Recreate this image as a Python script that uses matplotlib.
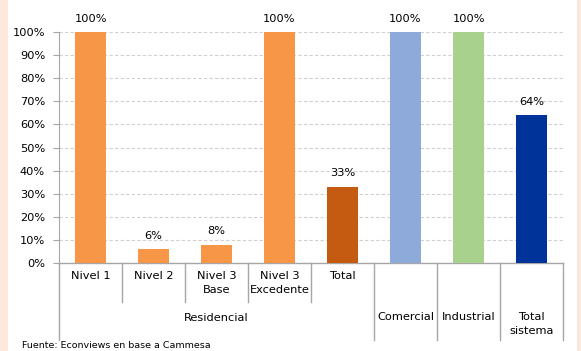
import matplotlib.pyplot as plt
from matplotlib.lines import Line2D
from matplotlib.patches import Rectangle
from matplotlib.ticker import FuncFormatter

# datos
categorias = ["Nivel 1", "Nivel 2", "Nivel 3\nBase", "Nivel 3\nExcedente", "Total",
              "Comercial", "Industrial", "Total\nsistema"]
valores = [100, 6, 8, 100, 33, 100, 100, 64]
colores = ["#F79646", "#F79646", "#F79646", "#F79646", "#C55A11",
           "#8EAADB", "#A9D18E", "#003399"]
grupo = "Residencial"
fuente = "Fuente: Econviews en base a Cammesa"

W, H = 581, 351
fig = plt.figure(figsize=(W / 100, H / 100), dpi=100)
fig.patch.set_facecolor("white")
# bandas laterales
fig.patches.append(Rectangle((0, 0), 8 / W, 1, transform=fig.transFigure,
                             facecolor="#FDE9DC", edgecolor="none", zorder=0))
fig.patches.append(Rectangle((577 / W, 0), 4 / W, 1, transform=fig.transFigure,
                             facecolor="#FDE9DC", edgecolor="none", zorder=0))

x0, x1, ytop, ybot = 59, 563, 32, 263
ax = fig.add_axes([x0 / W, (H - ybot) / H, (x1 - x0) / W, (ybot - ytop) / H])
ax.set_facecolor("none")

pos = list(range(len(valores)))
bars = ax.bar(pos, valores, width=0.5, color=colores, zorder=3)
for b, v in zip(bars, valores):
    ax.annotate(f"{v}%", (b.get_x() + b.get_width() / 2, v), xytext=(0, 6),
                textcoords="offset points", ha="center", va="bottom", fontsize=8.2)

ax.set_xlim(-0.5, len(valores) - 0.5)
ax.set_ylim(0, 100)
ax.set_yticks(range(0, 101, 10))
ax.yaxis.set_major_formatter(FuncFormatter(lambda v, p: f"{v:.0f}%"))
ax.tick_params(axis="y", labelsize=8.2, length=4, color="#A6A6A6", pad=6)
ax.set_xticks([])
ax.grid(axis="y", color="#D0D0D0", linestyle=(0, (3, 2)), linewidth=0.8, zorder=0)
for s in ["top", "right", "bottom"]:
    ax.spines[s].set_visible(False)
ax.spines["left"].set_color("#A6A6A6")

hpx = ybot - ytop
def ay(py):
    return (ybot - py) / hpx

tr = ax.get_xaxis_transform()
# eje x y separadores
ax.add_line(Line2D([-0.5, 7.5], [0, 0], transform=tr, color="#A6A6A6", lw=1, clip_on=False))
for xs in [-0.5, 4.5, 5.5, 6.5, 7.5]:
    ax.add_line(Line2D([xs, xs], [0, ay(340)], transform=tr, color="#A6A6A6", lw=1, clip_on=False))
for xs in [0.5, 1.5, 2.5, 3.5]:
    ax.add_line(Line2D([xs, xs], [0, ay(302)], transform=tr, color="#A6A6A6", lw=1, clip_on=False))

for i, c in enumerate(categorias):
    yy = 271 if i < 5 else 312
    ax.text(i, ay(yy), c, transform=tr, ha="center", va="top", fontsize=8.2, linespacing=1.5)
ax.text(2, ay(318), grupo, transform=tr, ha="center", va="center", fontsize=8.2)

fig.text(22 / W, 1 - 346 / H, fuente, fontsize=6.8, va="center", ha="left")

fig.savefig("out.png", dpi=100)
